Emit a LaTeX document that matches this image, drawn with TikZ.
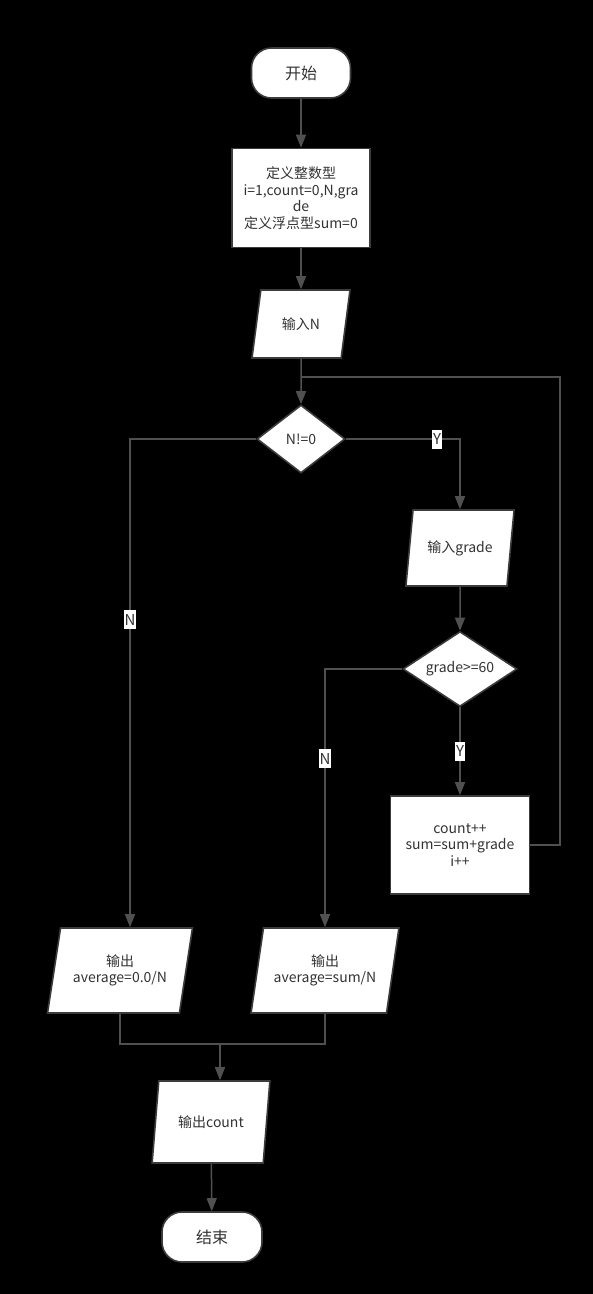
\documentclass[tikz,border=0pt]{standalone}
\usepackage{fontspec}
\setmainfont{Noto Sans CJK SC}
\usetikzlibrary{shapes.geometric,arrows.meta}
\definecolor{txt}{HTML}{333333}
\definecolor{bord}{HTML}{3C3C3C}
\definecolor{ln}{HTML}{505050}
\begin{document}
\begin{tikzpicture}[x=1pt,y=-1pt,
 every node/.style={font=\fontsize{14}{16.5}\selectfont, text=txt},
 base/.style={draw=bord, fill=white, line width=1.6pt, align=center, inner sep=0pt},
 term/.style={base, rectangle, rounded corners=20pt, minimum width=99pt, minimum height=50pt, font=\fontsize{16}{18}\selectfont},
 proc/.style={base, rectangle},
 io/.style={base, trapezium, trapezium left angle=72, trapezium right angle=108, trapezium stretches=true},
 dec/.style={base, diamond, inner sep=-6pt},
 line/.style={draw=ln, line width=1.5pt},
 arr/.style={line, -{Triangle[length=13pt,width=10pt]}},
 lab/.style={fill=white, inner sep=1pt, minimum height=19pt, text=txt, font=\fontsize{15}{16}\selectfont}
]
\useasboundingbox[fill=black] (0,0) rectangle (593,1294);

\node[term] (start) at (301,73) {开始};
\node[proc, minimum width=138pt, minimum height=99pt] (init) at (301,198)
  {定义整数型\\i=1,count=0,N,gra\\de\\定义浮点型sum=0};
\node[io, minimum width=98pt, minimum height=68pt] (in1) at (301,324) {输入N};
\node[dec, minimum width=88pt, minimum height=68pt] (d1) at (301,439) {N!=0};
\node[io, minimum width=109pt, minimum height=76pt] (in2) at (460,548) {输入grade};
\node[dec, minimum width=114pt, minimum height=75pt] (d2) at (460,669) {grade>=60};
\node[proc, minimum width=139pt, minimum height=98pt] (b) at (460,845)
  {count++\\sum=sum+grade\\i++};
\node[io, minimum width=145pt, minimum height=85pt] (o1) at (120,970.5) {输出\\average=0.0/N};
\node[io, minimum width=148pt, minimum height=85pt] (o2) at (325,970.5) {输出\\average=sum/N};
\node[io, minimum width=118pt, minimum height=82pt] (o3) at (211,1122) {输出count};
\node[term, minimum width=100pt] (end) at (212,1237) {结束};

\coordinate (j) at (301,377);
\coordinate (rr) at (560,377);
\coordinate (m) at (220,1044);

\draw[arr] (start) -- (init);
\draw[arr] (init) -- (in1);
\draw[arr] (in1) -- (d1);
\draw[arr] (d1.east) -| node[lab, pos=0.40] {Y} (in2.north);
\draw[arr] (in2) -- (d2);
\draw[arr] (d2.south) -- node[lab, pos=0.5] {Y} (b.north);
\draw[line] (b.east) -- (b.east -| rr) -- (rr) -- (j);
\draw[arr] (d1.west) -| node[lab, pos=0.685] {N} ([xshift=10pt]o1.north);
\draw[arr] (d2.west) -| node[lab, pos=0.674] {N} (o2.north);
\draw[line] (o1.south) |- (m) -| (o2.south);
\draw[arr] (m) -- (m |- o3.north);
\draw[arr] (o3) -- (end);
\end{tikzpicture}
\end{document}
